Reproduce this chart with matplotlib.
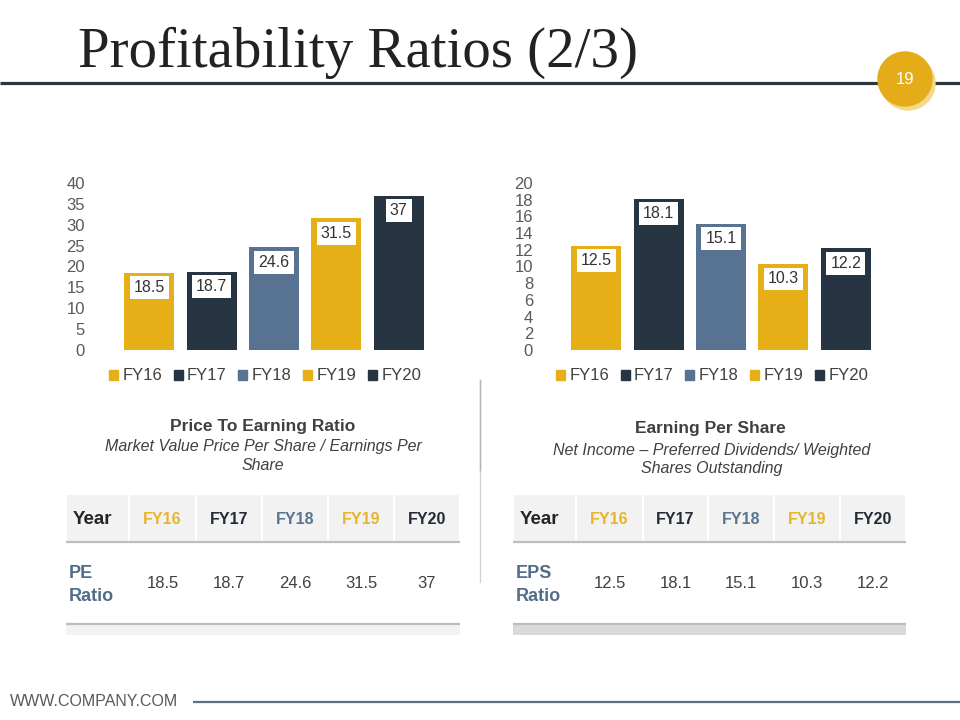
import matplotlib
matplotlib.use('Agg')
import matplotlib.pyplot as plt
import matplotlib.patches as mpatches

# data
years = ["FY16", "FY17", "FY18", "FY19", "FY20"]
pe_values = [18.5, 18.7, 24.6, 31.5, 37]
eps_values = [12.5, 18.1, 15.1, 10.3, 12.2]
pe_ticks = [0, 5, 10, 15, 20, 25, 30, 35, 40]
eps_ticks = [0, 2, 4, 6, 8, 10, 12, 14, 16, 18, 20]

GOLD = '#E6AE17'
DARK = '#273442'
SLATE = '#587391'
bar_colors = [GOLD, DARK, SLATE, GOLD, DARK]
head_colors = ['#E8B42C', '#232B36', '#5A7491', '#E8B42C', '#232B36']
TXT = '#404040'

plt.rcParams['font.family'] = ['Liberation Sans', 'DejaVu Sans']

W, H = 960, 720
fig = plt.figure(figsize=(9.6, 7.2), dpi=100)
fig.patch.set_facecolor('white')

bg = fig.add_axes([0, 0, 1, 1], zorder=0)
bg.set_xlim(0, W)
bg.set_ylim(H, 0)
bg.axis('off')


def px_axes(x0, x1, ytop, ybot):
    return fig.add_axes([x0 / W, 1 - ybot / H, (x1 - x0) / W, (ybot - ytop) / H], zorder=2)


# title + header line + page badge
bg.text(78, 67, "Profitability Ratios (2/3)", family=['Liberation Serif', 'DejaVu Serif'],
        fontsize=41, color='#222222', va='baseline', ha='left')
bg.plot([0, W], [83, 83], color='#2B3640', lw=2.3, solid_capstyle='butt')
bg.add_patch(mpatches.Circle((908, 83), 27, color='#F4D98C', zorder=3))
bg.add_patch(mpatches.Circle((905, 79), 27, color='#E5AC1A', zorder=4))
bg.text(905, 80, "19", color='white', fontsize=12, ha='center', va='center', zorder=5)


def bar_chart(x0, x1, values, ticks, legend_cx):
    ax = px_axes(x0, x1, 183, 350)
    ax.patch.set_visible(False)
    xs = list(range(len(values)))
    ax.bar(xs, values, width=0.8, color=bar_colors)
    span = (x1 - x0) / 62.4
    ax.set_xlim(4.5 - span, 4.5)
    ax.set_ylim(ticks[0], ticks[-1])
    ax.set_yticks(ticks)
    ax.set_xticks([])
    ax.tick_params(axis='y', length=0, pad=5, labelsize=12, labelcolor='#595959')
    for s in ax.spines.values():
        s.set_visible(False)
    for x, v in zip(xs, values):
        ax.annotate(f"{v:g}", xy=(x, v), xytext=(0, -15), textcoords='offset pixels',
                    ha='center', va='center', fontsize=11.5, color='#333333',
                    bbox=dict(boxstyle='square,pad=0.25', fc='white', ec='none'))
    handles = [mpatches.Patch(color=c, label=y) for c, y in zip(bar_colors, years)]
    fig.legend(handles=handles, loc='center', bbox_to_anchor=(legend_cx / W, 1 - 376 / H),
               ncol=5, frameon=False, fontsize=12, handlelength=0.55, handleheight=0.55,
               handletextpad=0.25, columnspacing=0.7, labelcolor='#404040')
    return ax


bar_chart(92, 430, pe_values, pe_ticks, 265)
bar_chart(540, 877, eps_values, eps_ticks, 712)

# vertical divider
bg.plot([480, 480], [380, 582], color='#D2D2D2', lw=1)
bg.plot([480, 480], [380, 470], color='#B5B5B5', lw=1)

# captions
bg.text(263, 427, "Price To Earning Ratio", fontsize=12.5, weight='bold', color=TXT,
        ha='center', va='center')
bg.text(263, 456, "Market Value Price Per Share / Earnings Per\nShare", fontsize=11.5,
        style='italic', color=TXT, ha='center', va='center', linespacing=1.25)
bg.text(710, 429, "Earning Per Share", fontsize=12.5, weight='bold', color=TXT,
        ha='center', va='center')
bg.text(712, 460, "Net Income \u2013 Preferred Dividends/ Weighted\nShares Outstanding",
        fontsize=11.5, style='italic', color=TXT, ha='center', va='center', linespacing=1.25)


def table(edges, row_label, values, band_color):
    top, hb = 495, 541
    for a, b in zip(edges[:-1], edges[1:]):
        bg.add_patch(mpatches.Rectangle((a + 1, top), b - a - 2, hb - top, fc='#F2F2F2', ec='none'))
    bg.plot([edges[0], edges[-1]], [542, 542], color='#BDBDBD', lw=1.6, solid_capstyle='butt')
    bg.plot([edges[0], edges[-1]], [624, 624], color='#BDBDBD', lw=1.6, solid_capstyle='butt')
    bg.add_patch(mpatches.Rectangle((edges[0], 625), edges[-1] - edges[0], 10, fc=band_color, ec='none'))
    bg.text(edges[0] + 7, 519, "Year", fontsize=13.5, weight='bold', color='#262626',
            ha='left', va='center')
    bg.text(edges[0] + 3, 585, row_label, fontsize=13, weight='bold', color='#536C88',
            ha='left', va='center', linespacing=1.4)
    for i, (y, c, v) in enumerate(zip(years, head_colors, values)):
        cx = (edges[i + 1] + edges[i + 2]) / 2
        bg.text(cx, 519, y, fontsize=11.5, weight='bold', color=c, ha='center', va='center')
        bg.text(cx, 584, f"{v:g}", fontsize=12, color=TXT, ha='center', va='center')


table([66, 129, 196, 262, 328, 394, 460], "PE\nRatio", pe_values, '#F2F2F2')
table([513, 576, 643, 708, 774, 840, 906], "EPS\nRatio", eps_values, '#D9D9D9')

# footer
bg.text(10, 701, "WWW.COMPANY.COM", family=['Liberation Sans Narrow', 'Liberation Sans'],
        fontsize=11.5, color='#595959', ha='left', va='center')
bg.plot([193, W], [702, 702], color='#5B6E84', lw=1.6, solid_capstyle='butt')

fig.savefig("out.png", dpi=100)
